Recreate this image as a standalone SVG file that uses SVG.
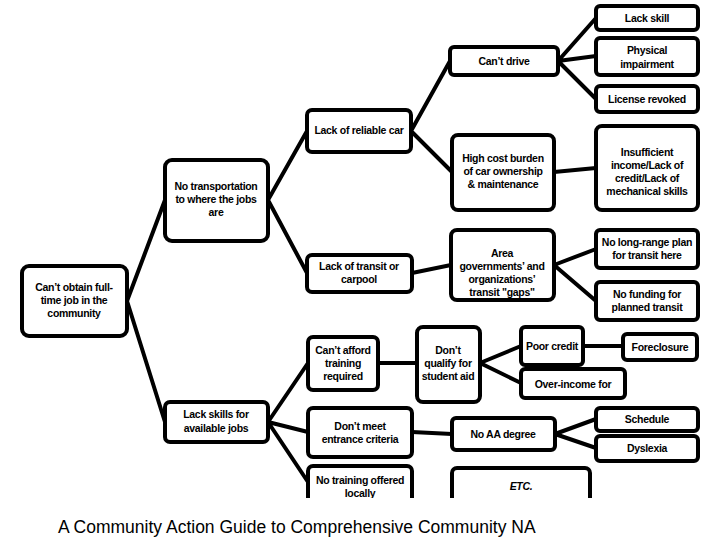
<svg xmlns="http://www.w3.org/2000/svg" width="720" height="540" viewBox="0 0 720 540">
<style>
.n{fill:#fff;stroke:#000;stroke-width:4}
.t{font-family:"Liberation Sans",Arial,sans-serif;font-size:10.5px;font-weight:bold;text-anchor:middle;letter-spacing:-0.3px}
.c{stroke:#000;stroke-width:4;fill:none}
</style>
<defs><clipPath id="cp"><rect x="0" y="0" width="720" height="498"/></clipPath></defs>
<rect width="720" height="540" fill="#fff"/>
<g clip-path="url(#cp)">
<g id="connectors" class="c">
<path d="M127 301L165 200M127 301L165 422"/>
<path d="M268 200L307 131M268 200L307 273"/>
<path d="M411 131L450 61M411 131L452 172"/>
<path d="M412 273L451 265"/>
<path d="M558 61L596 18M558 61L596 56M558 61L596 99"/>
<path d="M554 172L596 168"/>
<path d="M554 265L596 249M554 265L596 301"/>
<path d="M268 422L308 363M268 422L308 432M268 422L308 482"/>
<path d="M378 363L417 363"/>
<path d="M480 363L521 346M480 363L521 383"/>
<path d="M583 346L623 346"/>
<path d="M412 432L452 434"/>
<path d="M555 434L596 419M555 434L596 448"/>
</g>
<g id="root"><rect class="n" x="22" y="266" width="105" height="70" rx="7"/><text class="t" x="74" y="291">Can’t obtain full-</text><text class="t" x="74" y="304">time job in the</text><text class="t" x="74" y="317">community</text></g>
<g id="notransport"><rect class="n" x="165" y="160" width="103" height="81" rx="7"/><text class="t" x="216" y="190">No transportation</text><text class="t" x="216" y="203">to where the jobs</text><text class="t" x="216" y="216">are</text></g>
<g id="reliablecar"><rect class="n" x="307" y="110" width="104" height="42" rx="5"/><text class="t" x="359" y="134">Lack of reliable car</text></g>
<g id="transit"><rect class="n" x="307" y="255" width="105" height="37" rx="5"/><text class="t" x="359" y="270">Lack of transit or</text><text class="t" x="359" y="283">carpool</text></g>
<g id="cantdrive"><rect class="n" x="450" y="47" width="108" height="28" rx="4"/><text class="t" x="504" y="65">Can’t drive</text></g>
<g id="highcost"><rect class="n" x="452" y="135" width="102" height="75" rx="6"/><text class="t" x="503" y="162">High cost burden</text><text class="t" x="503" y="175">of car ownership</text><text class="t" x="503" y="188">&amp; maintenance</text></g>
<g id="areagov"><rect class="n" x="451" y="230" width="103" height="70" rx="6"/><text class="t" x="502" y="257">Area</text><text class="t" x="502" y="270">governments’ and</text><text class="t" x="502" y="283">organizations’</text><text class="t" x="502" y="296">transit "gaps"</text></g>
<g id="lackskill"><rect class="n" x="596" y="6" width="102" height="24" rx="4"/><text class="t" x="647" y="22">Lack skill</text></g>
<g id="physical"><rect class="n" x="596" y="38" width="102" height="37" rx="4"/><text class="t" x="647" y="54">Physical</text><text class="t" x="647" y="68">impairment</text></g>
<g id="license"><rect class="n" x="596" y="86" width="102" height="26" rx="4"/><text class="t" x="647" y="103">License revoked</text></g>
<g id="insufficient"><rect class="n" x="596" y="126" width="102" height="84" rx="6"/><text class="t" x="647" y="156">Insufficient</text><text class="t" x="647" y="169">income/Lack of</text><text class="t" x="647" y="182">credit/Lack of</text><text class="t" x="647" y="195">mechanical skills</text></g>
<g id="longrange"><rect class="n" x="596" y="230" width="102" height="38" rx="4"/><text class="t" x="647" y="246">No long-range plan</text><text class="t" x="647" y="259">for transit here</text></g>
<g id="funding"><rect class="n" x="596" y="282" width="102" height="38" rx="4"/><text class="t" x="647" y="298">No funding for</text><text class="t" x="647" y="311">planned transit</text></g>
<g id="lackskills"><rect class="n" x="165" y="402" width="103" height="40" rx="5"/><text class="t" x="216" y="418">Lack skills for</text><text class="t" x="216" y="432">available jobs</text></g>
<g id="cantafford"><rect class="n" x="308" y="337" width="70" height="53" rx="5"/><text class="t" x="343" y="354">Can’t afford</text><text class="t" x="343" y="367">training</text><text class="t" x="343" y="380">required</text></g>
<g id="dontmeet"><rect class="n" x="308" y="408" width="104" height="49" rx="5"/><text class="t" x="360" y="430">Don’t meet</text><text class="t" x="360" y="443">entrance criteria</text></g>
<g id="notraining"><rect class="n" x="308" y="466" width="104" height="50" rx="5"/><text class="t" x="360" y="484">No training offered</text><text class="t" x="360" y="497">locally</text></g>
<g id="dontqualify"><rect class="n" x="417" y="327" width="63" height="75" rx="6"/><text class="t" x="448" y="354">Don’t</text><text class="t" x="448" y="367">qualify for</text><text class="t" x="448" y="380">student aid</text></g>
<g id="poorcredit"><rect class="n" x="521" y="327" width="62" height="38" rx="4"/><text class="t" x="552" y="350">Poor credit</text></g>
<g id="foreclosure"><rect class="n" x="623" y="334" width="74" height="26" rx="4"/><text class="t" x="660" y="351">Foreclosure</text></g>
<g id="overincome"><rect class="n" x="521" y="369" width="104" height="29" rx="4"/><text class="t" x="573" y="388">Over-income for</text></g>
<g id="noaa"><rect class="n" x="452" y="418" width="103" height="32" rx="4"/><text class="t" x="503" y="438">No AA degree</text></g>
<g id="schedule"><rect class="n" x="596" y="408" width="102" height="23" rx="4"/><text class="t" x="647" y="423">Schedule</text></g>
<g id="dyslexia"><rect class="n" x="596" y="436" width="102" height="25" rx="4"/><text class="t" x="647" y="452">Dyslexia</text></g>
<g id="etc"><rect class="n" x="452" y="468" width="138" height="50" rx="5"/><text class="t" x="521" y="490" font-style="italic">ETC.</text></g>
</g>
<text x="58" y="533" font-family="Liberation Sans,Arial,sans-serif" font-size="17.5">A Community Action Guide to Comprehensive Community NA</text>
</svg>
